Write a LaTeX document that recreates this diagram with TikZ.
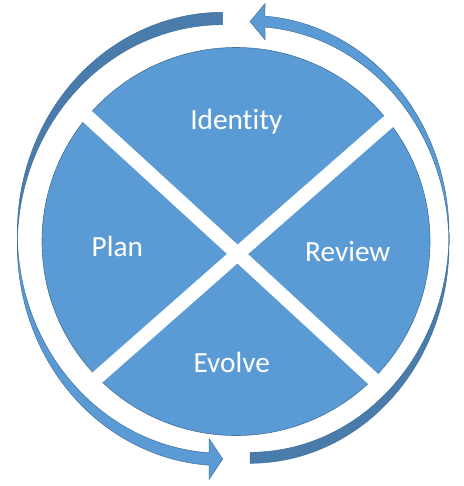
\documentclass[tikz,border=0pt]{standalone}
\usepackage{fontspec}
\setmainfont{Carlito}[Ligatures={NoCommon,NoRare,NoContextual}]
\definecolor{pieblue}{HTML}{5B9BD5}
\definecolor{pieedge}{HTML}{41719C}
\definecolor{backblue}{HTML}{497CAA}
\begin{document}
\begin{tikzpicture}[x=1pt,y=-1pt,
  piefill/.style={fill=pieblue, draw=pieedge, line width=0.6pt},
  gap/.style={draw=white, line width=14pt},
  lbl/.style={text=white, font=\fontsize{29.3}{34}\selectfont, anchor=base, inner sep=0pt},
  front/.style={fill=pieblue, draw=pieedge, line width=0.5pt},
  back/.style={fill=backblue, draw=pieedge, line width=0.5pt}]
\useasboundingbox (0,0) rectangle (463,486);
% pie
\coordinate (C) at (236,241.5);
\coordinate (X) at (237.5,254);
\path[piefill] (C) circle[radius=194];
\coordinate (b1) at (79,108.8);
\coordinate (b2) at (380.1,385.4);
\coordinate (b3) at (396.5,114.6);
\coordinate (b4) at (89.6,384.4);
\draw[gap] (b1) -- (X) -- (b2);
\draw[gap] (b3) -- (X) -- (b4);
% labels
\node[lbl] (identity) at (236.3,129.3) {Identity};
\node[lbl] (plan) at (117.3,256) {Plan};
\node[lbl] (review) at (347.8,261.7) {Review};
\node[lbl] (evolve) at (231.7,372.3) {Evolve};
% left curved arrow (back part at top, head at bottom)
\path[back] (222.7,12.3)
  -- plot[domain=270:180, samples=90, variable=\t] ({222.7+205.4*cos(\t)},{232.8+220.5*sin(\t)})
  -- plot[domain=180:270, samples=90, variable=\t] ({222.7+205.4*cos(\t)},{245.2+220.5*sin(\t)})
  -- cycle;
\path[front] plot[domain=180:93.82, samples=90, variable=\t] ({222.7+205.4*cos(\t)},{232.8+220.5*sin(\t)})
  -- (209,438.5) -- (222.7,459) -- (209,479.5)
  -- plot[domain=93.82:180, samples=90, variable=\t] ({222.7+205.4*cos(\t)},{245.2+220.5*sin(\t)})
  -- cycle;
% right curved arrow (back part at bottom, head at top)
\path[back] (250,463.3)
  -- plot[domain=90:0, samples=90, variable=\t] ({250+199*cos(\t)},{244.9+218.4*sin(\t)})
  -- plot[domain=0:90, samples=90, variable=\t] ({250+199*cos(\t)},{233.9+218.4*sin(\t)})
  -- cycle;
\path[front] plot[domain=0:-85.68, samples=90, variable=\t] ({250+199*cos(\t)},{244.9+218.4*sin(\t)})
  -- (265,39.6) -- (250,21.6) -- (265,3.6)
  -- plot[domain=-85.68:0, samples=90, variable=\t] ({250+199*cos(\t)},{233.9+218.4*sin(\t)})
  -- cycle;
\end{tikzpicture}
\end{document}
